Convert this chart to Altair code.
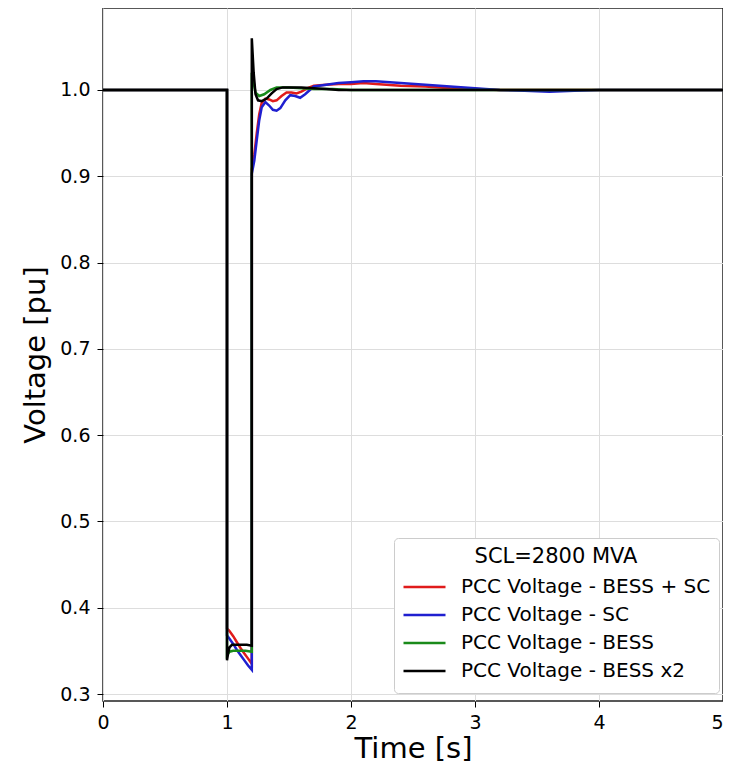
import altair as alt
import pandas as pd

series_names = ["PCC Voltage - BESS + SC", "PCC Voltage - SC",
                "PCC Voltage - BESS", "PCC Voltage - BESS x2"]
series_colors = ["#e01b1b", "#1f1fd0", "#1a8a1a", "#000000"]

t_red = [0, 1.0, 1.0, 1.02, 1.05, 1.08, 1.11, 1.14, 1.17, 1.2, 1.2, 1.22, 1.24, 1.26, 1.28,
         1.31, 1.34, 1.37, 1.4, 1.44, 1.48, 1.52, 1.56, 1.6, 1.65, 1.7, 1.8, 1.9, 2.0, 2.1,
         2.2, 2.4, 2.6, 2.8, 3.0, 3.2, 3.5, 4.0, 5.0]
v_red = [1.0, 1.0, 0.376, 0.373, 0.367, 0.360, 0.353, 0.347, 0.341, 0.335, 0.908, 0.925,
         0.950, 0.972, 0.985, 0.990, 0.989, 0.987, 0.988, 0.993, 0.997, 0.997, 0.996, 0.998,
         1.002, 1.005, 1.006, 1.007, 1.007, 1.008, 1.007, 1.005, 1.004, 1.002, 1.001, 1.000,
         1.000, 1.000, 1.000]

t_blue = [0, 1.0, 1.0, 1.02, 1.05, 1.08, 1.11, 1.14, 1.17, 1.2, 1.2, 1.22, 1.24, 1.26, 1.28,
          1.31, 1.34, 1.37, 1.4, 1.43, 1.47, 1.51, 1.55, 1.59, 1.63, 1.7, 1.8, 1.9, 2.0, 2.1,
          2.2, 2.4, 2.6, 2.8, 3.0, 3.2, 3.4, 3.6, 3.8, 4.0, 5.0]
v_blue = [1.0, 1.0, 0.368, 0.364, 0.358, 0.351, 0.345, 0.339, 0.333, 0.328, 0.903, 0.918,
          0.942, 0.965, 0.980, 0.986, 0.982, 0.977, 0.976, 0.979, 0.988, 0.994, 0.993, 0.991,
          0.995, 1.004, 1.006, 1.008, 1.009, 1.010, 1.010, 1.008, 1.006, 1.004, 1.002, 1.000,
          0.999, 0.998, 0.999, 1.000, 1.000]

t_green = [0, 1.0, 1.0, 1.02, 1.05, 1.1, 1.15, 1.2, 1.2, 1.23, 1.26, 1.3, 1.35, 1.4, 1.45,
           1.5, 1.6, 1.7, 1.85, 2.0, 2.5, 5.0]
v_green = [1.0, 1.0, 0.345, 0.349, 0.350, 0.350, 0.350, 0.349, 1.02, 0.997, 0.993, 0.995,
           1.000, 1.003, 1.003, 1.003, 1.002, 1.001, 1.001, 1.000, 1.000, 1.000]

t_black = [0, 1.0, 1.0, 1.01, 1.02, 1.04, 1.08, 1.12, 1.16, 1.2, 1.2, 1.215, 1.23, 1.25,
           1.28, 1.32, 1.36, 1.4, 1.45, 1.5, 1.6, 1.7, 1.8, 1.9, 2.0, 5.0]
v_black = [1.0, 1.0, 0.339, 0.348, 0.354, 0.357, 0.357, 0.357, 0.357, 0.356, 1.060, 1.020,
           0.995, 0.988, 0.987, 0.990, 0.996, 1.001, 1.003, 1.003, 1.003, 1.002, 1.001,
           1.000, 1.000, 1.000]

x_ticks = [0, 1, 2, 3, 4, 5]
y_ticks = [0.3, 0.4, 0.5, 0.6, 0.7, 0.8, 0.9, 1.0]

rows = []
for name, ts, vs in zip(series_names, [t_red, t_blue, t_green, t_black],
                        [v_red, v_blue, v_green, v_black]):
    for i, (t, v) in enumerate(zip(ts, vs)):
        rows.append({"series": name, "time": t, "voltage": v, "idx": i})
df = pd.DataFrame(rows)

color = alt.Color(
    "series:N",
    scale=alt.Scale(domain=series_names, range=series_colors),
    legend=alt.Legend(
        title="SCL=2800 MVA", orient="none", legendX=291, legendY=530,
        symbolType="stroke", symbolSize=1764, symbolStrokeWidth=2.5,
        labelFont="DejaVu Sans", labelFontSize=20, labelColor="black", labelOffset=14,
        titleFont="DejaVu Sans", titleFontSize=21, titleFontWeight="normal",
        titleColor="black", titleAnchor="middle", titleAlign="center", titlePadding=6,
        padding=8, rowPadding=0, clipHeight=28, cornerRadius=4,
        strokeColor="#cccccc", fillColor="white", labelLimit=400,
    ),
)

x = alt.X("time:Q", scale=alt.Scale(domain=[0, 5], nice=False),
          axis=alt.Axis(title="Time [s]", values=x_ticks, format="d", labelFlush=False,
                        labelAlign={"condition": {"test": "datum.value >= 5", "value": "right"},
                                    "value": "center"}))
y = alt.Y("voltage:Q", scale=alt.Scale(domain=[0.2919, 1.095], nice=False, zero=False),
          axis=alt.Axis(title="Voltage [pu]", values=y_ticks, format=".1f", labelFlush=False))

layers = []
for name in series_names:
    layers.append(
        alt.Chart(df).transform_filter(alt.datum.series == name)
        .mark_line(strokeWidth=2.5, clip=True)
        .encode(x=x, y=y, color=color, order="idx:Q")
    )

chart = alt.layer(*layers).properties(
    width=620, height=693,
    autosize=alt.AutoSizeParams(type="none"),
    padding={"left": 95, "top": 0, "right": 0, "bottom": 62},
).configure_view(
    stroke="#222222", strokeWidth=1.5
).configure_axis(
    grid=True, gridColor="#dddddd", gridWidth=1,
    domain=False, ticks=True, tickColor="black", tickSize=6, tickWidth=1,
    labelFont="DejaVu Sans", labelFontSize=19, labelColor="black",
    titleFont="DejaVu Sans", titleFontSize=29, titleFontWeight="normal", titleColor="black",
).configure_axisX(
    labelPadding=6, titlePadding=2,
).configure_axisY(
    labelPadding=7, titlePadding=9,
)

chart.save("out.html", embed_options={"renderer": "svg", "actions": False})
